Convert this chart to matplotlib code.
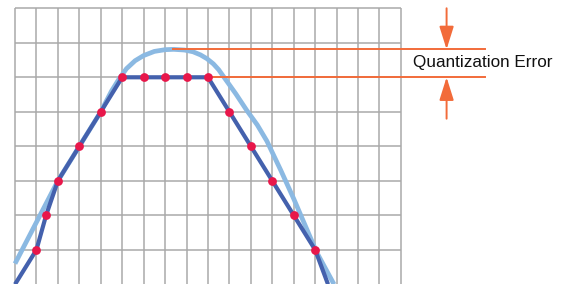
import numpy as np
import matplotlib.pyplot as plt

# grid units: column index (u) and level (v)
sample_u = [1, 1.45, 2, 3, 4, 5, 6, 7, 8, 9, 10, 11, 12, 13, 14]
sample_v = [1, 2, 3, 4, 5, 6, 6, 6, 6, 6, 5, 4, 3, 2, 1]

quant_u = [0] + sample_u + [14.6]
quant_v = [0] + sample_v + [0]

analog_u = [0, 2, 4, 4.5, 4.85, 5.2, 5.6, 6.0, 6.5, 7.0, 7.4, 7.9, 8.3, 8.65, 8.95, 9.25, 9.5, 9.75, 10.3, 10.8, 11.3, 11.75, 12.4, 13.0, 14.07, 14.88]
analog_v = [0.6, 3.0, 5.0, 5.6, 5.95, 6.25, 6.48, 6.63, 6.75, 6.8, 6.81, 6.79, 6.74, 6.65, 6.54, 6.39, 6.22, 6.0, 5.52, 5.05, 4.62, 4.15, 3.3, 2.48, 0.93, 0.0]

peak_level = 6.81
quant_level = 6
label = "Quantization Error"

fig = plt.figure(figsize=(5.69, 2.84), dpi=100)
ax = fig.add_axes([0, 0, 1, 1])
ax.set_xlim(-0.7, 25.84)
ax.set_ylim(0.009, 8.24)
ax.axis('off')

grid_col = '#a9a9a9'
ax.vlines(np.arange(0, 19), 0, 8, color=grid_col, lw=1.1, zorder=1)
ax.hlines(np.arange(1, 9), 0, 18, color=grid_col, lw=1.1, zorder=1)

ax.plot(analog_u, analog_v, color='#8bb9e2', lw=3.4, solid_capstyle='butt', zorder=3)
ax.plot(quant_u, quant_v, color='#4461ad', lw=3.0, solid_capstyle='butt', zorder=4)
ax.scatter(sample_u, sample_v, s=40, color='#e8174a', zorder=6, linewidths=0)

orange = '#f26b3a'
ax.plot([7.37, 21.9], [peak_level, peak_level], color=orange, lw=1.4, zorder=5)
ax.plot([9.0, 21.9], [quant_level, quant_level], color=orange, lw=1.4, zorder=5)

head = '-|>,head_length=0.7,head_width=0.22'
ax.annotate('', xy=(20.13, peak_level), xytext=(20.13, 8.0),
            arrowprops=dict(arrowstyle=head, color=orange, lw=1.4, mutation_scale=20,
                            shrinkA=0, shrinkB=0))
ax.annotate('', xy=(20.13, quant_level), xytext=(20.13, 4.8),
            arrowprops=dict(arrowstyle=head, color=orange, lw=1.4, mutation_scale=20,
                            shrinkA=0, shrinkB=0))

ax.text(18.55, (peak_level + quant_level) / 2 + 0.02, label, fontsize=12.3,
        family='Liberation Sans', va='center', ha='left', color='#111111')

fig.savefig('out.png', dpi=100)
